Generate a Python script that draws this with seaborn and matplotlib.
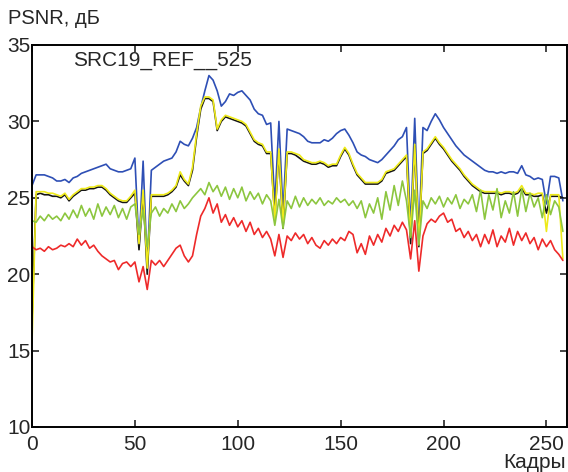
import numpy as np
import pandas as pd
import matplotlib
matplotlib.use("Agg")
import matplotlib.pyplot as plt
import seaborn as sns

# frame numbers (every second frame)
frames = list(range(0, 260, 2))

blue = [
    25.8, 26.5, 26.5, 26.5, 26.4, 26.3, 26.1, 26.1, 26.2, 26.0,
    26.3, 26.4, 26.6, 26.7, 26.8, 26.9, 27.0, 27.1, 27.2, 26.9,
    26.8, 26.7, 26.7, 26.8, 26.9, 27.6, 21.8, 27.4, 20.5, 26.8,
    27.0, 27.2, 27.4, 27.5, 27.6, 28.0, 28.7, 28.5, 28.4, 28.9,
    29.6, 30.9, 32.0, 33.0, 32.7, 32.0, 31.0, 31.3, 31.8, 31.7,
    31.9, 32.0, 31.7, 31.4, 30.8, 30.5, 30.4, 29.8, 29.9, 24.5,
    30.0, 24.0, 29.5, 29.4, 29.3, 29.2, 29.0, 28.7, 28.6, 28.6,
    28.6, 28.8, 28.7, 28.9, 29.2, 29.4, 29.5, 29.1, 28.6, 28.0,
    27.8, 27.7, 27.5, 27.4, 27.3, 27.5, 27.8, 28.1, 28.4, 28.8,
    29.0, 29.6, 23.0, 30.2, 22.5, 29.6, 29.4, 30.0, 30.5, 30.1,
    29.6, 29.2, 28.8, 28.4, 28.1, 27.8, 27.6, 27.4, 27.2, 27.0,
    26.8, 26.7, 26.7, 26.6, 26.7, 26.6, 26.7, 26.7, 26.6, 27.1,
    26.5, 26.4, 26.2, 26.3, 26.2, 24.6, 26.4, 26.4, 26.3, 24.8,
]

black = [
    17.0, 25.2, 25.3, 25.2, 25.2, 25.1, 25.1, 25.0, 25.2, 24.8,
    25.1, 25.3, 25.5, 25.5, 25.6, 25.6, 25.7, 25.7, 25.5, 25.2,
    25.0, 24.8, 24.7, 24.7, 25.0, 25.3, 21.6, 25.3, 20.0, 25.1,
    25.1, 25.1, 25.1, 25.2, 25.4, 25.7, 26.5, 26.1, 25.8, 26.8,
    29.0, 30.8, 31.5, 31.5, 31.3, 29.4, 30.0, 30.3, 30.2, 30.1,
    30.0, 29.9, 29.7, 29.2, 28.7, 28.5, 28.4, 27.9, 27.9, 23.7,
    28.0, 23.0, 27.9, 27.9, 27.8, 27.6, 27.4, 27.3, 27.2, 27.2,
    27.3, 27.2, 27.0, 27.1, 27.1, 27.7, 28.2, 27.8, 27.1, 26.5,
    26.2, 25.9, 25.9, 25.9, 25.9, 26.1, 26.6, 26.7, 26.8, 27.1,
    27.4, 27.7, 22.0, 28.4, 21.8, 27.9, 28.1, 28.5, 28.9, 28.5,
    28.2, 27.8, 27.4, 27.1, 26.8, 26.4, 26.1, 25.8, 25.6, 25.4,
    25.3, 25.3, 25.3, 25.3, 25.2, 25.3, 25.3, 25.2, 25.3, 25.6,
    25.2, 25.2, 25.1, 25.1, 25.2, 24.0, 25.1, 25.1, 25.1, 25.0,
]

yellow = [
    15.5, 25.4, 25.4, 25.4, 25.3, 25.3, 25.2, 25.1, 25.3, 24.9,
    25.2, 25.4, 25.6, 25.6, 25.7, 25.7, 25.8, 25.8, 25.6, 25.3,
    25.1, 24.9, 24.8, 24.8, 25.1, 25.5, 22.0, 25.5, 20.4, 25.2,
    25.2, 25.2, 25.2, 25.3, 25.5, 25.8, 26.7, 26.2, 25.9, 27.0,
    29.2, 31.0, 31.6, 31.6, 31.4, 29.5, 30.1, 30.4, 30.3, 30.2,
    30.1, 30.0, 29.8, 29.3, 28.8, 28.6, 28.5, 28.0, 28.0, 23.5,
    28.2, 23.2, 28.0, 28.0, 27.9, 27.8, 27.5, 27.4, 27.3, 27.3,
    27.4, 27.3, 27.1, 27.2, 27.2, 27.8, 28.3, 27.9, 27.2, 26.6,
    26.3, 26.0, 26.0, 26.0, 26.0, 26.2, 26.7, 26.8, 26.9, 27.2,
    27.5, 27.8, 22.5, 28.5, 22.0, 28.0, 28.2, 28.6, 29.0, 28.6,
    28.3, 27.9, 27.5, 27.2, 26.9, 26.5, 26.2, 25.9, 25.7, 25.5,
    25.4, 25.4, 25.4, 25.4, 25.3, 25.4, 25.4, 25.3, 25.4, 25.8,
    25.3, 25.3, 25.2, 25.3, 25.3, 22.8, 25.2, 25.2, 25.2, 21.0,
]

green = [
    23.5, 23.4, 23.8, 23.5, 23.9, 23.6, 23.8, 23.5, 24.0, 23.6,
    24.2, 23.7, 24.5, 23.8, 24.3, 23.6, 24.6, 23.8, 24.4, 23.9,
    24.5, 23.7, 24.3, 23.6, 24.4, 24.6, 22.6, 24.2, 21.8, 24.0,
    24.4, 23.8, 24.3, 24.0, 24.6, 24.1, 24.8, 24.3, 24.6, 25.0,
    25.3, 25.6, 25.2, 26.0, 25.4, 25.8, 25.1, 25.7, 24.9, 25.6,
    25.0, 25.7, 24.8, 25.4, 24.9, 25.3, 24.6, 25.2, 24.8, 23.2,
    24.9, 23.0, 24.8, 24.3, 25.1, 24.4, 25.0, 24.5, 24.9, 24.6,
    25.0, 24.5, 24.8, 24.6, 25.0, 24.7, 24.9, 24.5, 24.8, 24.3,
    24.8, 23.7, 24.6, 24.0, 25.0, 23.6, 25.4, 24.2, 25.8, 24.5,
    26.1, 24.8, 22.4, 25.5, 21.9, 24.8, 24.3, 25.0, 24.6, 25.1,
    24.4, 25.0, 24.6, 25.2, 24.3, 24.9, 24.6, 25.2, 24.1, 25.5,
    23.6, 25.2, 24.2, 25.6, 23.7, 24.8, 24.0, 25.4, 23.8, 25.6,
    24.1, 25.3, 24.4, 25.0, 23.7, 25.2, 23.9, 24.8, 24.4, 22.8,
]

red = [
    21.8, 21.6, 21.7, 21.5, 21.8, 21.6, 21.7, 21.9, 21.8, 22.0,
    21.8, 22.3, 21.9, 22.2, 21.7, 21.9, 21.5, 21.2, 21.0, 20.8,
    20.9, 20.3, 20.7, 20.8, 20.5, 20.8, 19.5, 20.5, 19.0, 20.9,
    20.6, 20.9, 20.5, 20.9, 21.3, 21.7, 21.9, 21.2, 20.8, 21.2,
    22.6, 23.8, 24.3, 25.0, 24.0, 24.6, 23.4, 23.9, 23.2, 23.7,
    23.1, 23.5, 22.8, 23.4, 22.6, 23.0, 22.4, 22.8, 22.3, 21.2,
    22.6, 21.1, 22.5, 22.2, 22.7, 22.3, 22.6, 22.0, 22.4, 21.9,
    21.7, 22.2, 21.9, 22.3, 22.0, 22.4, 22.2, 22.8, 22.6, 21.4,
    22.0, 21.3, 22.5, 21.9, 22.6, 22.1, 23.0, 22.5, 23.2, 22.8,
    23.4, 22.9, 21.0, 23.5, 20.2, 22.5, 23.3, 23.6, 23.4, 23.8,
    24.0, 23.4, 23.6, 22.8, 23.0, 22.4, 22.8, 22.2, 22.6, 21.8,
    22.6, 22.0, 22.9, 21.8, 22.5, 22.1, 23.0, 21.9, 22.8, 22.2,
    22.7, 22.0, 22.4, 21.6, 22.3, 21.8, 22.2, 21.6, 21.3, 20.9,
]

series_names = ["blue", "black", "yellow", "green", "red"]
series_colors = ["#2e4fb5", "#151515", "#eeea1a", "#8cc63f", "#ee2a2a"]
x_ticks = [0, 50, 100, 150, 200, 250]
y_ticks = [10, 15, 20, 25, 30, 35]

sns.set_style("ticks")
plt.rcParams['font.family'] = ['Liberation Sans', 'DejaVu Sans']

rows = []
for name, vals in zip(series_names, [blue, black, yellow, green, red]):
    for f, v in zip(frames, vals):
        rows.append({"frame": f, "psnr": v, "series": name})
df = pd.DataFrame(rows)

fig = plt.figure(figsize=(5.68, 4.72), dpi=100)
ax = fig.add_axes([32 / 568, 45 / 472, 535 / 568, 382 / 472])

sns.lineplot(data=df, x="frame", y="psnr", hue="series", hue_order=series_names,
             palette=series_colors, linewidth=1.2, legend=False, ax=ax)

ax.set_xlim(0, 260)
ax.set_ylim(10, 35)
ax.set_xticks(x_ticks)
ax.set_yticks(y_ticks)
ax.set_xlabel("")
ax.set_ylabel("")
ax.tick_params(direction="in", top=True, right=True, length=5, width=1.2,
               labelsize=15)
ax.tick_params(axis="x", pad=6)
ax.tick_params(axis="y", pad=1)
for sp in ax.spines.values():
    sp.set_visible(True)
    sp.set_linewidth(1.4)
    sp.set_color("black")

ax.text(20, 34.0, "SRC19_REF__525", fontsize=15, va="center", ha="left")
fig.text(8 / 568, 1 - 19 / 472, "PSNR, дБ", fontsize=14.5, va="center", ha="left")
fig.text(566 / 568, 1 - 462 / 472, "Кадры", fontsize=15, va="center", ha="right")

plt.savefig("out.png", dpi=100)
plt.close()
